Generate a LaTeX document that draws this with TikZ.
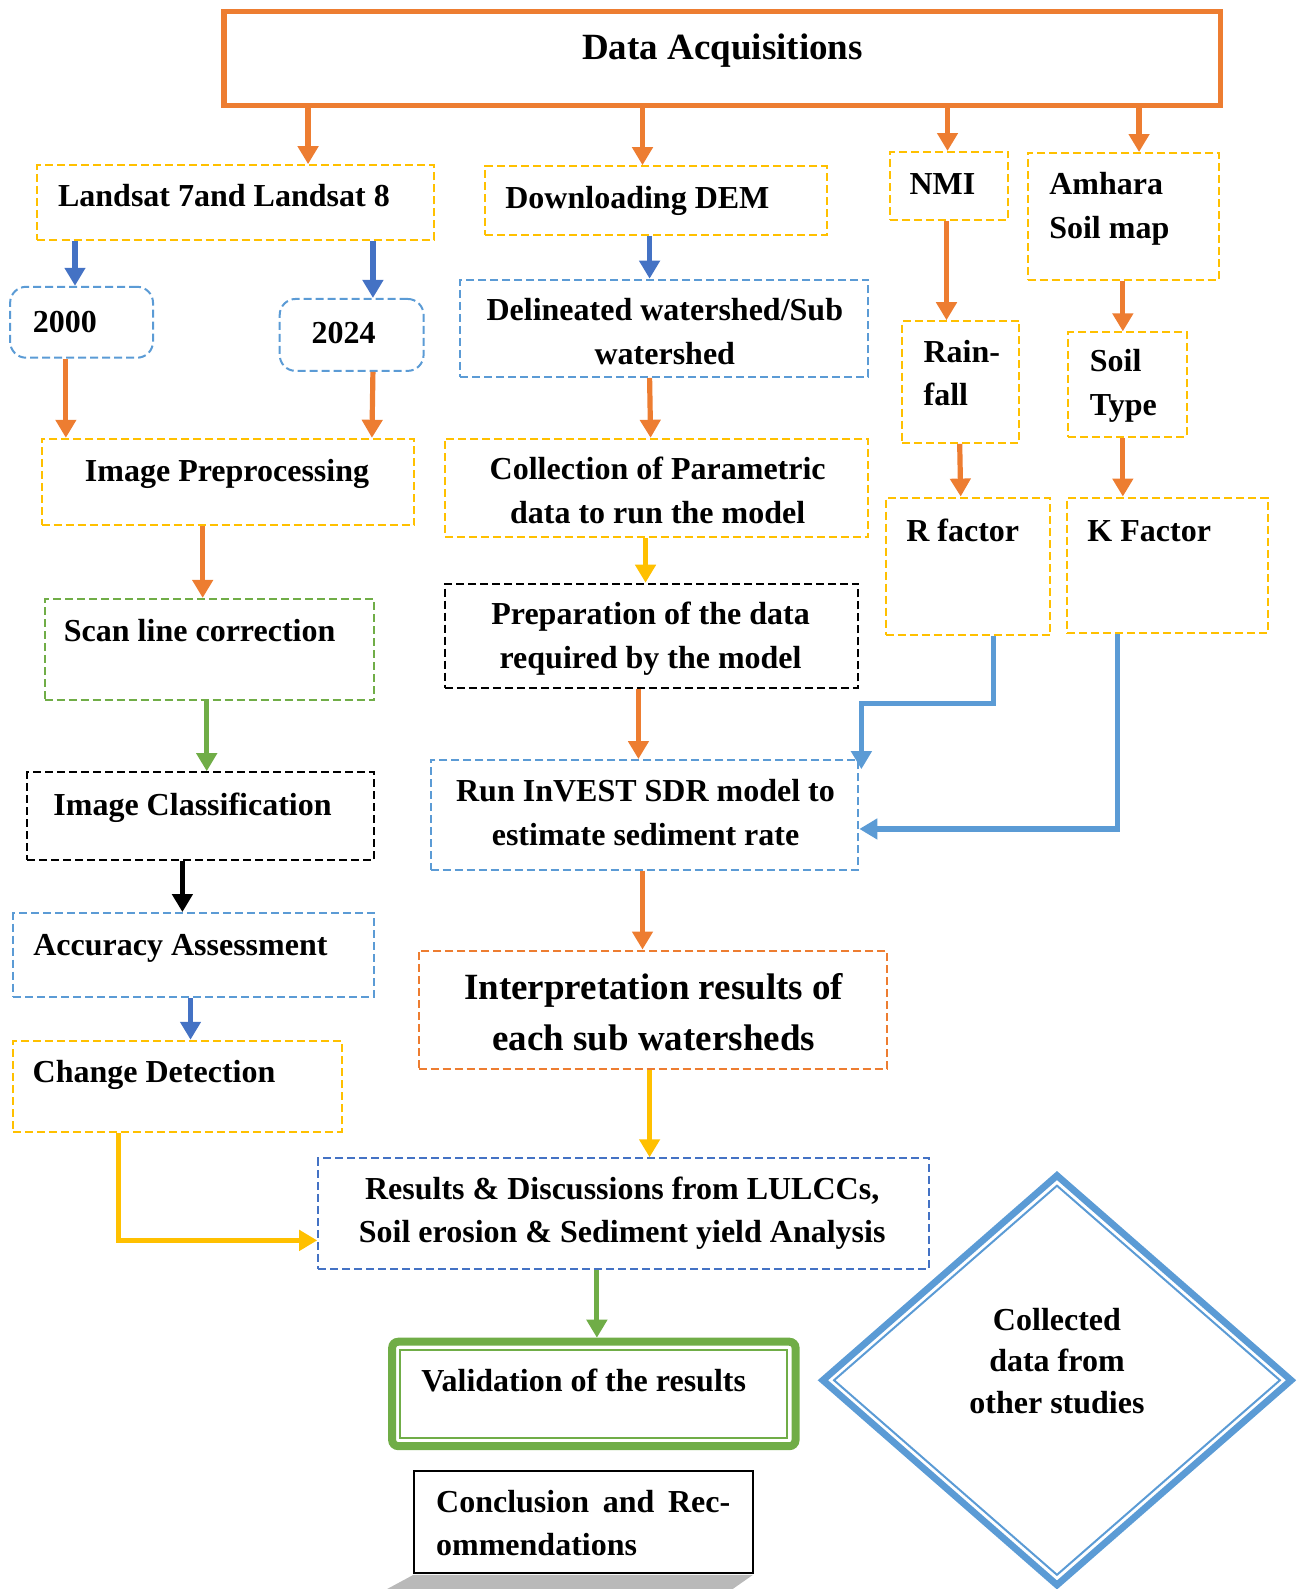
\documentclass[tikz,border=0pt]{standalone}
\usepackage{fontspec}
\setmainfont{Liberation Serif}
\usetikzlibrary{fit,arrows.meta,calc}
\definecolor{cOr}{HTML}{ED7D31}
\definecolor{cYe}{HTML}{FFC000}
\definecolor{cBl}{HTML}{4472C4}
\definecolor{cLb}{HTML}{5B9BD5}
\definecolor{cGr}{HTML}{70AD47}
\tikzset{
  box/.style={draw=#1, line width=1pt, dash pattern=on 4pt off 2pt, inner sep=0pt},
  arr/.style={draw=#1, line width=2.6pt, -{Triangle[width=10pt,length=9pt,fill=#1]}},
  txt/.style={font=\fontsize{16}{21.8}\selectfont\bfseries, align=center, inner sep=0pt},
  ltxt/.style={txt, align=left, anchor=west},
  bigtxt/.style={font=\fontsize{18.5}{25.8}\selectfont\bfseries, align=center, inner sep=0pt}
}
\begin{document}
\begin{tikzpicture}[x=0.5066pt, y=-0.5066pt]
\useasboundingbox (0,0) rectangle (1286,1568);

% boxes
\node[draw=cOr, line width=2.6pt, inner sep=0pt, fit={(221,11) (1204,104)}] (top) {};
\node[box=cYe, fit={(37,163) (428,237)}] (landsat) {};
\node[box=cYe, fit={(479,164) (816,232)}] (dem) {};
\node[box=cYe, fit={(878,150) (995,217)}] (nmi) {};
\node[box=cYe, fit={(1014,151) (1203,276)}] (amhara) {};
\node[box=cLb, rounded corners=8pt, fit={(10,283) (151,353)}] (y2000) {};
\node[box=cLb, rounded corners=8pt, fit={(276,295) (418,366)}] (y2024) {};
\node[box=cLb, fit={(454,276) (857,372)}] (delin) {};
\node[box=cYe, fit={(890,317) (1006,437)}] (rain) {};
\node[box=cYe, fit={(1054,328) (1171,431)}] (soil) {};
\node[box=cYe, fit={(41,433) (409,518)}] (imgpre) {};
\node[box=cYe, fit={(439,433) (857,530)}] (coll) {};
\node[box=cYe, fit={(874,491) (1036,627)}] (rfac) {};
\node[box=cYe, fit={(1053,491) (1251,625)}] (kfac) {};
\node[box=cGr, fit={(44,591) (369,691)}] (scan) {};
\node[box=black, fit={(439,576) (847,679)}] (prep) {};
\node[box=black, fit={(27,762) (369,849)}] (imgcls) {};
\node[box=cLb, fit={(425,750) (847,858)}] (run) {};
\node[box=cLb, fit={(13,901) (369,984)}] (acc) {};
\node[box=cYe, fit={(13,1027) (337,1117)}] (chg) {};
\node[box=cOr, fit={(413,938) (875,1055)}] (interp) {};
\node[box=cBl, fit={(314,1143) (917,1252)}] (res) {};
\node[draw=cGr, line width=4pt, rounded corners=3pt, inner sep=0pt, fit={(387,1324) (785,1427)}] (valid) {};
\draw[cGr, line width=1pt] (395,1332) rectangle (777,1419);
\fill[gray!55] (408,1554) -- (743,1554) -- (723,1568) -- (382,1568) -- cycle;
\node[draw=black, line width=1pt, inner sep=0pt, fit={(409,1452) (743,1552)}] (concl) {};

% diamond
\draw[cLb, line width=3.4pt, line join=miter] (1043,1160) -- (1274,1362) -- (1043,1564) -- (812,1362) -- cycle;
\draw[cLb, line width=1pt, line join=miter] (1043,1170) -- (1263,1362) -- (1043,1554) -- (823,1362) -- cycle;

% texts
\node[font=\fontsize{18.5}{22}\selectfont\bfseries, inner sep=0pt] (tTop) at (713,50) {Data Acquisitions};
\node[txt] (tLandsat) at (221,193) {Landsat 7and Landsat 8};
\node[txt] (tDem) at (629,198) {Downloading DEM};
\node[txt] (tNmi) at (930,182) {NMI};
\node[ltxt] (tAmhara) at (1035,206) {Amhara\\Soil map};
\node[txt] (t2000) at (64,318) {2000};
\node[txt] (t2024) at (339,329) {2024};
\node[txt] (tDelin) at (656,327) {Delineated watershed/Sub\\watershed};
\node[ltxt] (tRain) at (911,368) {Rain-\\fall};
\node[ltxt] (tSoil) at (1075,381) {Soil\\Type};
\node[txt] (tImgpre) at (224,468) {Image Preprocessing};
\node[txt] (tColl) at (649,484) {Collection of Parametric\\data to run the model};
\node[txt] (tR) at (950,523) {R factor};
\node[txt] (tK) at (1134,524) {K Factor};
\node[txt] (tScan) at (197,622) {Scan line correction};
\node[txt] (tPrep) at (642,630) {Preparation of the data\\required by the model};
\node[txt] (tImgcls) at (190,797) {Image Classification};
\node[txt] (tRun) at (637,802) {Run InVEST SDR model to\\estimate sediment rate};
\node[txt] (tAcc) at (178,936) {Accuracy Assessment};
\node[bigtxt] (tInterp) at (645,999) {Interpretation results of\\each sub watersheds};
\node[txt] (tChg) at (152,1061) {Change Detection};
\node[txt] (tRes) at (614,1197) {Results \& Discussions from LULCCs,\\Soil erosion \& Sediment yield Analysis};
\node[txt] (tValid) at (576,1362) {Validation of the results};
\node[ltxt] (tConcl) at (430,1503) {\hbox to 147pt{Conclusion\hfil and\hfil Rec-}\\ommendations};
\node[txt, font=\fontsize{16}{20.8}\selectfont\bfseries] (tColl2) at (1043,1343) {Collected\\data from\\other studies};

% arrows
\draw[arr=cOr] (top.south -| 304,0) -- (landsat.north -| 304,0);
\draw[arr=cOr] (top.south -| 634,0) -- (dem.north -| 634,0);
\draw[arr=cOr] (top.south -| 935,0) -- (nmi.north -| 935,0);
\draw[arr=cOr] (top.south -| 1124,0) -- (amhara.north -| 1124,0);
\draw[arr=cBl] (landsat.south -| 74,0) -- (y2000.north -| 74,0);
\draw[arr=cBl] (landsat.south -| 368,0) -- (y2024.north -| 368,0);
\draw[arr=cOr] (y2000.south -| 65,0) -- (imgpre.north -| 65,0);
\draw[arr=cOr] (y2024.south -| 368,0) -- (imgpre.north -| 367,0);
\draw[arr=cBl] (dem.south -| 641,0) -- (delin.north -| 641,0);
\draw[arr=cOr] (delin.south -| 641,0) -- (coll.north -| 642,0);
\draw[arr=cYe] (coll.south -| 637,0) -- (prep.north -| 637,0);
\draw[arr=cOr] (prep.south -| 630,0) -- (run.north -| 630,0);
\draw[arr=cOr] (nmi.south -| 934,0) -- (rain.north -| 934,0);
\draw[arr=cOr] (amhara.south -| 1108,0) -- (soil.north -| 1108,0);
\draw[arr=cOr] (rain.south -| 947,0) -- (rfac.north -| 948,0);
\draw[arr=cOr] (soil.south -| 1108,0) -- (kfac.north -| 1108,0);
\draw[arr=cLb, line join=miter] (rfac.south -| 980,0) -- ++(0,66) -| ($(run.north -| 850,0)+(0,10)$);
\draw[arr=cLb, line join=miter] (kfac.south -| 1103,0) |- (run.east |- 0,818);
\draw[arr=cOr] (imgpre.south -| 200,0) -- (scan.north -| 200,0);
\draw[arr=cGr] (scan.south -| 204,0) -- (imgcls.north -| 204,0);
\draw[arr=black] (imgcls.south -| 180,0) -- (acc.north -| 180,0);
\draw[arr=cBl] (acc.south -| 188,0) -- (chg.north -| 188,0);
\draw[arr=cYe, line join=miter] (chg.south -| 117,0) |- (res.west |- 0,1224);
\draw[arr=cOr] (run.south -| 634,0) -- (interp.north -| 634,0);
\draw[arr=cYe] (interp.south -| 641,0) -- (res.north -| 641,0);
\draw[arr=cGr] (res.south -| 589,0) -- (valid.north -| 589,0);
\end{tikzpicture}
\end{document}
